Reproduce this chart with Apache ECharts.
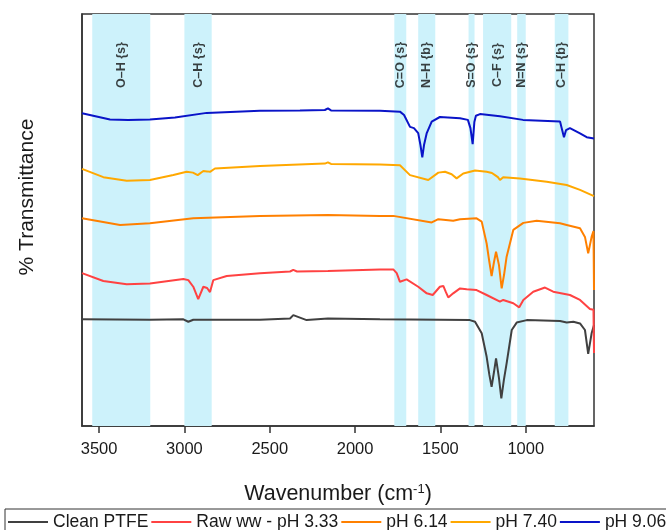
<!DOCTYPE html>
<html>
<head>
<meta charset="utf-8">
<script src="https://cdn.jsdelivr.net/npm/echarts@6/dist/echarts.min.js"></script>
<style>
html,body{margin:0;padding:0;background:#fff;}
#chart{width:666px;height:530px;}
</style>
</head>
<body>
<div id="chart"></div>
<script>
// ---- Data ----
const wnTicks = [3500, 3000, 2500, 2000, 1500, 1000];

const bandStart = [3540, 3000, 1770, 1630, 1335, 1250, 1050, 830];
const bandEnd   = [3200, 2840, 1700, 1530, 1300, 1085, 1000, 750];
const bandLabels = ['O–H {s}', 'C–H {s}', 'C=O {s}', 'N–H {b}', 'S=O {s}', 'C–F {s}', 'N=N {s}', 'C–H {b}'];
const bandLabelLevel = 87.6;

const seriesNames = ['Clean PTFE', 'Raw ww - pH 3.33', 'pH 6.14', 'pH 7.40', 'pH 9.06'];
const seriesColors = ['#404040', '#ff4242', '#ff8000', '#ffa800', '#0a14c8'];

const cleanPTFE = [
  [3600,25.9],[3202,25.8],[3006,25.9],[2977,25.3],[2948,25.8],[2557,25.8],[2381,26.1],[2362,26.9],
  [2323,26.3],[2284,25.7],[2159,26.1],[1854,25.9],[1327,25.7],[1297,25.3],[1258,22.5],[1229,16.8],
  [1213,12.4],[1200,9.5],[1186,13.1],[1174,16.4],[1157,11.7],[1143,6.7],[1128,11.2],[1112,15.2],
  [1082,23.3],[1053,25.1],[994,25.7],[799,25.5],[760,25.1],[721,25.3],[682,24.9],[653,23.3],
  [634,17.5],[614,22.5],[600,24.5]
];
const rawWW = [
  [3600,37.1],[3475,35.2],[3338,34.4],[3202,34.6],[3006,35.7],[2977,35.4],[2948,33.8],[2919,30.8],
  [2889,33.8],[2867,33.5],[2850,32.5],[2831,35.4],[2752,36.4],[2557,37.1],[2381,37.5],[2362,37.9],
  [2340,37.5],[2159,37.6],[1854,38.0],[1776,38.0],[1756,37.1],[1737,35.0],[1698,35.6],[1630,33.8],
  [1580,32.2],[1545,31.8],[1503,33.8],[1483,34.0],[1469,32.6],[1454,31.2],[1425,32.2],[1385,33.4],
  [1346,33.2],[1288,33.0],[1229,31.8],[1151,30.2],[1132,30.6],[1073,29.8],[1038,28.8],[1014,30.6],
  [956,32.6],[887,33.6],[839,32.6],[741,31.8],[682,30.6],[624,28.4],[603,28.2],[600,17.7]
];
const pH614 = [
  [3600,50.4],[3377,48.8],[3202,49.2],[2948,50.4],[2557,51.0],[2159,51.2],[1854,51.0],[1776,51.0],
  [1551,49.4],[1512,50.2],[1425,49.8],[1385,50.2],[1288,50.4],[1258,49.6],[1229,44.3],[1213,39.8],
  [1200,36.4],[1186,39.8],[1174,42.3],[1157,39.1],[1141,33.4],[1127,36.7],[1112,41.1],[1073,47.6],
  [1014,49.3],[936,49.8],[799,49.2],[760,48.8],[682,48.0],[653,45.9],[634,41.9],[614,45.9],
  [603,47.3],[600,33.0]
];
const pH740 = [
  [3600,62.4],[3475,60.4],[3338,59.5],[3202,59.7],[3065,60.9],[2987,61.7],[2950,61.5],[2922,60.9],
  [2889,61.9],[2867,61.8],[2850,61.7],[2821,62.5],[2557,63.1],[2177,63.7],[2159,64.0],[2141,63.6],
  [1854,63.5],[1737,63.3],[1678,60.9],[1571,59.7],[1512,61.5],[1473,61.7],[1434,61.1],[1405,60.1],
  [1366,61.3],[1297,62.0],[1229,61.7],[1198,61.4],[1180,60.9],[1163,60.4],[1151,59.7],[1132,60.4],
  [1034,60.1],[877,59.3],[760,58.5],[682,57.3],[600,55.8]
];
const pH906 = [
  [3600,75.9],[3436,74.4],[3330,74.3],[3202,74.4],[3055,74.9],[2869,76.0],[2557,76.5],[2323,76.6],
  [2177,76.7],[2159,77.1],[2141,76.6],[1854,76.5],[1737,76.3],[1713,75.5],[1678,72.6],[1655,72.3],
  [1630,71.1],[1617,68.2],[1606,65.2],[1596,68.2],[1580,71.1],[1551,73.9],[1503,75.0],[1385,74.7],
  [1339,74.3],[1324,72.3],[1311,68.4],[1301,73.8],[1292,75.3],[1268,75.7],[1151,75.2],[1016,74.3],
  [799,73.9],[789,73.5],[776,70.1],[764,71.8],[741,72.3],[682,71.0],[643,70.1],[600,69.8]
];
const seriesData = [cleanPTFE, rawWW, pH614, pH740, pH906];

// ---- Chart ----
const FONT = 'Liberation Sans, Arial, sans-serif';
const chart = echarts.init(document.getElementById('chart'), null, {renderer: 'canvas'});

const bandAreas = bandStart.map((s, i) => [{xAxis: s}, {xAxis: bandEnd[i]}]);
const bandLabelData = bandStart.map((s, i) => ({
  name: bandLabels[i],
  value: [(s + bandEnd[i]) / 2, bandLabelLevel]
}));

const lineSeries = seriesNames.map((name, i) => ({
  name: name,
  type: 'line',
  data: seriesData[i],
  showSymbol: false,
  symbol: 'none',
  z: 3,
  lineStyle: {color: seriesColors[i], width: 2},
  itemStyle: {color: seriesColors[i]},
  animation: false
}));

const option = {
  animation: false,
  backgroundColor: '#ffffff',
  grid: {
    left: 82, right: 72, top: 14, bottom: 104,
    show: true, borderColor: '#333', borderWidth: 1.5,
    containLabel: false, outerBoundsMode: 'none'
  },
  legend: {
    data: seriesNames.map(n => ({name: n, icon: 'rect'})),
    left: 5, top: 509, width: 780,
    orient: 'horizontal',
    itemWidth: 40, itemHeight: 2, itemGap: 3,
    padding: [3, 4, 6, 3],
    borderColor: '#333', borderWidth: 1,
    textStyle: {fontSize: 17.5, color: '#1a1a1a', fontFamily: FONT, lineHeight: 20},
    selectedMode: false
  },
  xAxis: {
    type: 'value',
    min: 600, max: 3600,
    inverse: true,
    name: 'Wavenumber (cm{sup|-1})',
    nameLocation: 'middle',
    nameGap: 57,
    nameTextStyle: {
      fontSize: 21.5, color: '#1a1a1a', fontFamily: FONT,
      rich: {sup: {fontSize: 13, verticalAlign: 'top', color: '#1a1a1a', fontFamily: FONT}}
    },
    axisLine: {show: true, lineStyle: {color: '#333', width: 1.5}},
    axisTick: {show: true, inside: false, length: 7, customValues: wnTicks, lineStyle: {color: '#333', width: 1.5}},
    axisLabel: {
      show: true, customValues: wnTicks, margin: 15, fontSize: 16.5, color: '#1a1a1a', fontFamily: FONT,
      formatter: function (v) { return String(v); }
    },
    splitLine: {show: false}
  },
  yAxis: {
    type: 'value',
    min: 0, max: 100,
    name: '% Transmittance',
    nameLocation: 'middle',
    nameGap: 44,
    nameTextStyle: {fontSize: 21, color: '#1a1a1a', fontFamily: FONT, padding: [0, 0, 0, 46]},
    axisLine: {show: true, lineStyle: {color: '#333', width: 1.5}},
    axisTick: {show: false},
    axisLabel: {show: false},
    splitLine: {show: false}
  },
  series: [
    {
      name: 'bands',
      type: 'scatter',
      data: bandLabelData,
      symbolSize: 1,
      z: 1,
      silent: true,
      itemStyle: {color: 'rgba(0,0,0,0)'},
      label: {
        show: true,
        position: 'inside',
        rotate: 90,
        formatter: function (p) { return p.name; },
        fontSize: 12.5,
        fontWeight: 'bold',
        color: '#111',
        fontFamily: FONT
      },
      markArea: {
        silent: true,
        itemStyle: {color: '#cdf2fb', opacity: 1},
        label: {show: false},
        data: bandAreas
      }
    }
  ].concat(lineSeries)
};
chart.setOption(option);
</script>
</body>
</html>
